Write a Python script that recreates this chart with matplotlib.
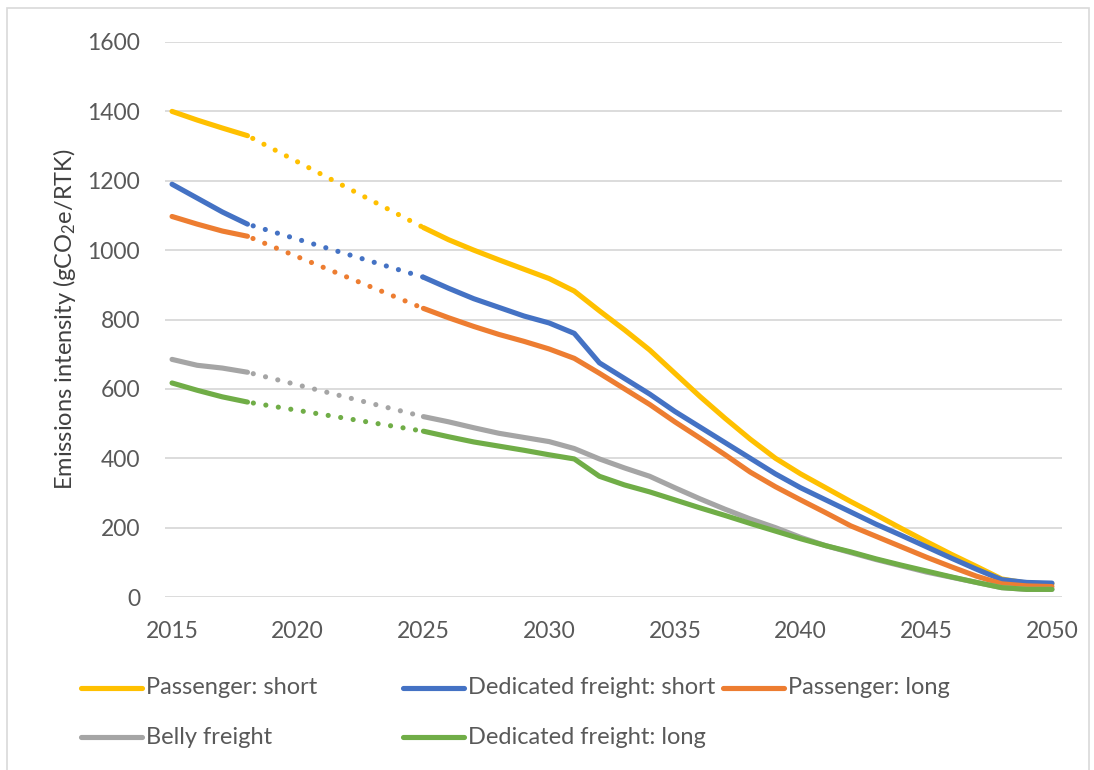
import matplotlib
matplotlib.use("Agg")

import matplotlib.pyplot as plt
from matplotlib.lines import Line2D
from matplotlib.patches import Rectangle

plt.rcParams["font.family"] = ["Lato", "DejaVu Sans"]
plt.rcParams["mathtext.fontset"] = "custom"
plt.rcParams["mathtext.rm"] = "Lato"
plt.rcParams["mathtext.it"] = "Lato:italic"

# ---------------------------------------------------------------------------
# Data
# ---------------------------------------------------------------------------
years_early = [2015, 2016, 2017, 2018]
years_late = list(range(2025, 2051))

pass_short_early = [1400, 1375, 1352, 1330]
pass_short_late = [1065, 1030, 1000, 972, 945, 918, 882, 825, 770, 712, 645, 578,
                   515, 455, 400, 355, 315, 275, 237, 198, 160, 123, 88, 52, 40, 38]

ded_short_early = [1190, 1150, 1110, 1075]
ded_short_late = [922, 890, 860, 835, 810, 790, 760, 675, 630, 585, 535, 490,
                  445, 400, 355, 315, 280, 245, 210, 178, 145, 112, 80, 50, 42, 40]

pass_long_early = [1097, 1075, 1055, 1040]
pass_long_late = [832, 805, 780, 757, 737, 715, 688, 645, 600, 555, 505, 458,
                  410, 360, 318, 280, 243, 205, 175, 145, 115, 87, 60, 38, 32, 30]

belly_early = [685, 668, 660, 648]
belly_late = [520, 505, 488, 472, 460, 448, 428, 398, 372, 348, 315, 283,
              253, 225, 200, 172, 148, 128, 108, 90, 72, 57, 42, 27, 22, 22]

ded_long_early = [617, 596, 577, 562]
ded_long_late = [478, 462, 447, 435, 423, 410, 398, 348, 323, 303, 280, 257,
                 235, 212, 190, 168, 148, 130, 110, 92, 75, 58, 42, 27, 22, 22]

labels = ["Passenger: short", "Dedicated freight: short", "Passenger: long",
          "Belly freight", "Dedicated freight: long"]
colors = ["#FFC000", "#4472C4", "#ED7D31", "#A5A5A5", "#70AD47"]
series = [
    (pass_short_early, pass_short_late),
    (ded_short_early, ded_short_late),
    (pass_long_early, pass_long_late),
    (belly_early, belly_late),
    (ded_long_early, ded_long_late),
]

# ---------------------------------------------------------------------------
# Figure
# ---------------------------------------------------------------------------
W, H = 1094, 770
fig = plt.figure(figsize=(W / 100, H / 100), dpi=100)
ax = fig.add_axes([165 / W, 1 - 597 / H, (1062 - 165) / W, (597 - 42) / H])

lw = 3.7
# Excel stacks series in legend order: first one at the bottom
for i, (early, late) in enumerate(series):
    c = colors[i]
    z = 3 + i
    ax.plot(years_early, early, color=c, lw=lw, solid_capstyle="round",
            solid_joinstyle="round", zorder=z)
    # dotted bridge between the last early point and the first late point
    ax.plot([years_early[-1], years_late[0]], [early[-1], late[0]], color=c,
            lw=lw, linestyle=(1.3, (0.01, 2.45)), dash_capstyle="round", zorder=z)
    ax.plot(years_late, late, color=c, lw=lw, solid_capstyle="round",
            solid_joinstyle="round", zorder=z)

ax.set_xlim(2014.72, 2050.4)
ax.set_ylim(0, 1600)
ax.set_xticks(range(2015, 2051, 5))
ax.set_yticks(range(0, 1601, 200))
ax.grid(axis="y", color="#D9D9D9", lw=1.3, zorder=0)
ax.set_axisbelow(True)
for s in ax.spines.values():
    s.set_visible(False)
ax.tick_params(length=0, labelsize=16.5, labelcolor="#595959", pad=18)
ax.tick_params(axis="x", pad=17)

ax.set_ylabel("Emissions intensity (gCO$_2$e/RTK)", fontsize=17, color="#404040")
ax.yaxis.set_label_coords(-0.097, 0.5)

# Legend, laid out like the Excel one (three fixed-width columns)
col_x = [81, 403, 723]
row_y = [688, 737]
slots = [(0, 0), (0, 1), (0, 2), (1, 0), (1, 1)]
for i, (r, cidx) in enumerate(slots):
    x0 = col_x[cidx]
    y0 = row_y[r]
    fig.add_artist(Line2D([x0 / W, (x0 + 61) / W], [1 - y0 / H, 1 - y0 / H],
                          color=colors[i], lw=lw, solid_capstyle="round",
                          transform=fig.transFigure))
    fig.text((x0 + 65) / W, 1 - y0 / H, labels[i], fontsize=17,
             color="#595959", va="center", ha="left")

# Chart-area border
fig.add_artist(Rectangle((7 / W, -0.01), (1089 - 7) / W, 1 - 8 / H + 0.01,
                         transform=fig.transFigure, fill=False,
                         edgecolor="#D9D9D9", lw=1.2))

fig.savefig("out.png", dpi=100)
